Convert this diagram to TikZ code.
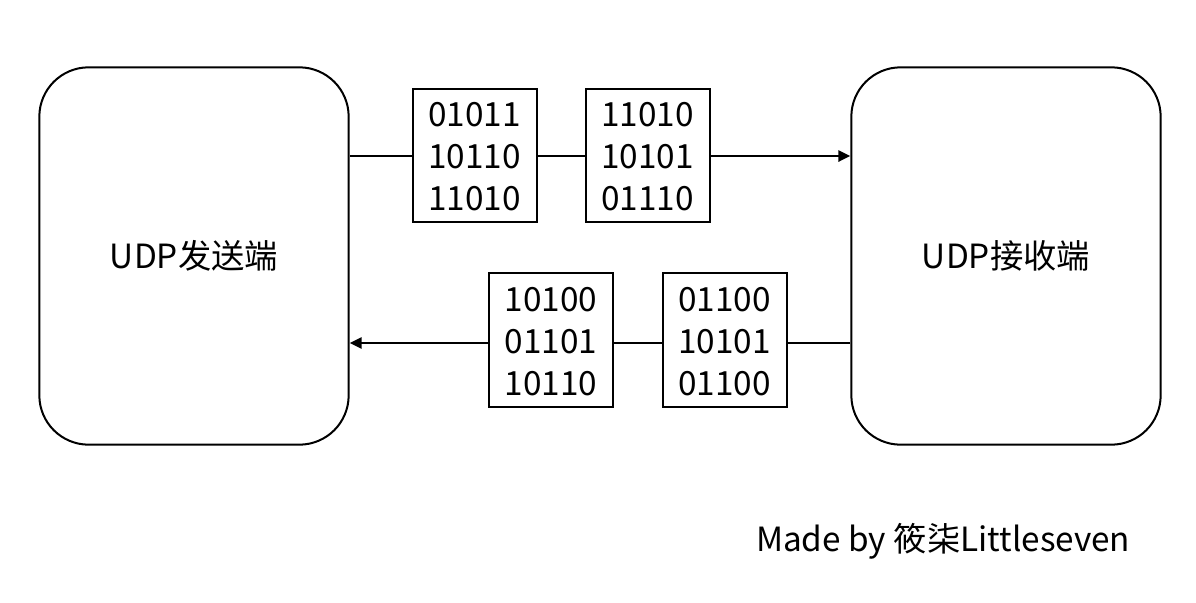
\documentclass[tikz,border=0pt]{standalone}
\usepackage{fontspec}
\setmainfont{Noto Sans CJK SC}
\usetikzlibrary{arrows.meta}
\newcommand{\pktBits}[3]{\rule{0pt}{20.5pt}#1\\#2\\#3}

\begin{document}
\begin{tikzpicture}[x=0.75pt,y=-0.75pt,
  line width=1.5pt,
  host/.style={draw, rounded corners=37pt, minimum width=232pt, minimum height=283pt, inner sep=0pt, font=\fontsize{25}{30}\selectfont},
  packet/.style={draw, align=center, minimum width=93pt, minimum height=100pt, inner sep=0pt, font=\fontsize{25}{31.5}\selectfont},
  tip/.style={-{Triangle[length=9pt,width=8.5pt]}}]
\useasboundingbox (0,0) rectangle (1196,603);
% hosts
\node[host] (send) at (194,256) {UDP发送端};
\node[host] (recv) at (1006,256) {UDP接收端};
% packets, sender to receiver
\node[packet] (p1) at (474.5,155.5) {\pktBits{01011}{10110}{11010}};
\node[packet] (p2) at (647.5,155.5) {\pktBits{11010}{10101}{01110}};
% packets, receiver to sender
\node[packet] (p3) at (551,340) {\pktBits{10100}{01101}{10110}};
\node[packet] (p4) at (724.5,340) {\pktBits{01100}{10101}{01100}};
% links
\coordinate (up) at (0,156);
\coordinate (down) at (0,343);
\draw (send.east |- up) -- (p1.west |- up);
\draw (p1.east |- up) -- (p2.west |- up);
\draw[tip] (p2.east |- up) -- (recv.west |- up);
\draw (recv.west |- down) -- (p4.east |- down);
\draw (p4.west |- down) -- (p3.east |- down);
\draw[tip] (p3.west |- down) -- (send.east |- down);
\node[anchor=base west, font=\fontsize{25}{30}\selectfont, inner sep=0pt] (credit) at (755,551) {Made by 筱柒Littleseven};
\end{tikzpicture}
\end{document}
